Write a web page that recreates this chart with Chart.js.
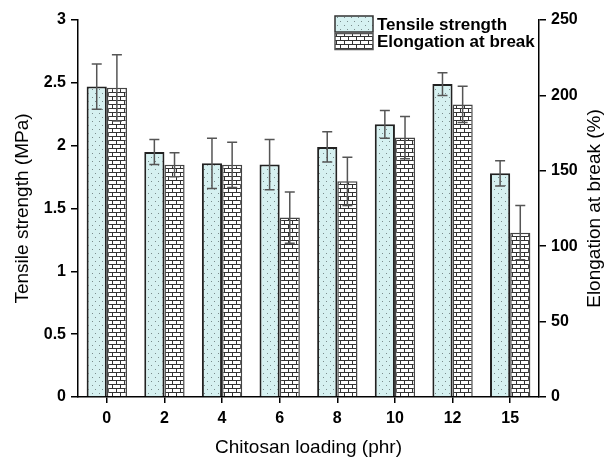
<!DOCTYPE html>
<html><head><meta charset="utf-8">
<script src="https://cdn.jsdelivr.net/npm/chart.js@4"></script>
<style>html,body{margin:0;padding:0;background:#fff;}#wrap{width:614px;height:459px;}</style>
</head><body><div id="wrap"><canvas id="c" width="614" height="459"></canvas></div>
<script>
const categories = ['0','2','4','6','8','10','12','15'];
const tensile = [2.47, 1.95, 1.86, 1.85, 1.99, 2.17, 2.49, 1.78];
const tensileErr = [0.18, 0.10, 0.20, 0.20, 0.12, 0.11, 0.09, 0.10];
const elongation = [205, 154, 154, 119, 143, 172, 194, 109];
const elongationErr = [22, 8, 15, 17, 16, 14, 12, 18];
const seriesNames = ['Tensile strength', 'Elongation at break'];
const axisTitles = ['Chitosan loading (phr)', 'Tensile strength (MPa)', 'Elongation at break (%)'];

function dotPattern(){
  const c=document.createElement('canvas');c.width=7;c.height=8;
  const g=c.getContext('2d');g.fillStyle='#d6f1f1';g.fillRect(0,0,7,8);
  g.fillStyle='#7a8c8c';g.fillRect(1,1,1,1);g.fillRect(4,5,1,1);
  return g.createPattern(c,'repeat');
}
function brickPattern(){
  const c=document.createElement('canvas');c.width=8;c.height=8;
  const g=c.getContext('2d');g.fillStyle='#ffffff';g.fillRect(0,0,8,8);
  g.fillStyle='#333';
  g.fillRect(0,0,8,1);g.fillRect(0,4,8,1);
  g.fillRect(0,0,1,4);g.fillRect(4,4,1,4);
  return g.createPattern(c,'repeat');
}
const pDots=dotPattern(), pBrick=brickPattern();
const FAM='"Liberation Sans", Arial, sans-serif';

const errorBars={id:'errorBars',afterDatasetsDraw(chart){
  const ctx=chart.ctx;
  const errs=[tensileErr,elongationErr];
  chart.data.datasets.forEach((ds,i)=>{
    const meta=chart.getDatasetMeta(i);
    const sc=chart.scales[ds.yAxisID];
    meta.data.forEach((bar,j)=>{
      const v=ds.data[j],e=errs[i][j];
      const yt=sc.getPixelForValue(v+e), yb=sc.getPixelForValue(v-e);
      ctx.save();ctx.strokeStyle='#555';ctx.lineWidth=1.5;
      ctx.beginPath();
      ctx.moveTo(bar.x,yt);ctx.lineTo(bar.x,yb);
      ctx.moveTo(bar.x-5,yt);ctx.lineTo(bar.x+5,yt);
      ctx.moveTo(bar.x-5,yb);ctx.lineTo(bar.x+5,yb);
      ctx.stroke();ctx.restore();
    });
  });
}};
const customLegend={id:'customLegend',afterDraw(chart){
  const ctx=chart.ctx;const fills=[pDots,pBrick];
  ctx.save();
  seriesNames.forEach((n,i)=>{
    const x=335,y=16+i*17.5;
    ctx.fillStyle=fills[i];ctx.fillRect(x,y,38,16);
    ctx.strokeStyle=i?'#555':'#333';ctx.lineWidth=1.5;ctx.strokeRect(x,y,38,16);
    ctx.fillStyle='#000';ctx.font='bold 17px '+FAM;
    ctx.textBaseline='middle';ctx.fillText(n,x+42,y+9);
  });
  // right axis title, reading bottom-to-top
  const s=chart.scales.y1;
  ctx.translate(595,(chart.chartArea.top+chart.chartArea.bottom)/2);
  ctx.rotate(-Math.PI/2);
  ctx.font='19px '+FAM;ctx.textAlign='center';ctx.textBaseline='middle';
  ctx.fillText(axisTitles[2],0,0);
  ctx.restore();
}};

const tickFont={family:FAM,size:16,weight:'bold'};
const gridCfg={drawOnChartArea:false,drawTicks:true,tickLength:7,color:'#000',lineWidth:1.5};
const borderCfg={display:true,color:'#000',width:1.5};
new Chart(document.getElementById('c'),{
  type:'bar',
  data:{labels:categories,datasets:[
    {label:seriesNames[0],data:tensile,yAxisID:'y',backgroundColor:pDots,borderColor:'#222',borderWidth:2,barPercentage:1,categoryPercentage:0.7},
    {label:seriesNames[1],data:elongation,yAxisID:'y1',backgroundColor:pBrick,borderColor:'#444',borderWidth:1.5,barPercentage:1,categoryPercentage:0.7}
  ]},
  plugins:[errorBars,customLegend],
  options:{
    responsive:false,animation:false,
    layout:{padding:{top:20,left:0,right:0,bottom:0}},
    plugins:{legend:{display:false},tooltip:{enabled:false}},
    scales:{
      x:{offset:true,grid:{...gridCfg,offset:false,tickLength:6},border:borderCfg,
        ticks:{color:'#000',font:tickFont,padding:6},
        title:{display:true,text:axisTitles[0],color:'#000',font:{family:FAM,size:19},padding:{top:0,bottom:0}},
        afterFit(s){s.height=62;}},
      y:{position:'left',min:0,max:3,grid:gridCfg,border:borderCfg,
        ticks:{stepSize:0.5,color:'#000',font:tickFont,padding:5,callback:v=>String(+v.toFixed(1))},
        title:{display:true,text:axisTitles[1],color:'#000',font:{family:FAM,size:19},padding:{top:11,bottom:0}},
        afterFit(s){s.width=78;}},
      y1:{position:'right',min:0,max:250,grid:gridCfg,border:borderCfg,
        ticks:{stepSize:50,color:'#000',font:tickFont,padding:5},
        title:{display:false},
        afterFit(s){s.width=75;}}
    }
  }
});
</script></body></html>
